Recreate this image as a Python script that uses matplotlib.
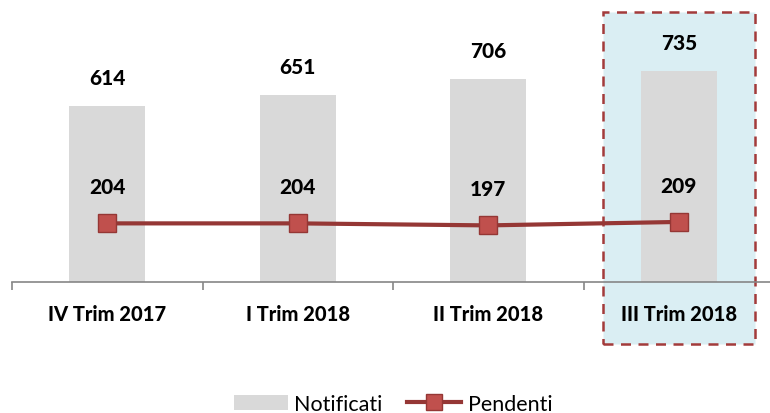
import matplotlib
matplotlib.use("Agg")
import matplotlib.pyplot as plt
from matplotlib.patches import Rectangle
import numpy as np

plt.rcParams["font.family"] = ["Lato", "DejaVu Sans"]

categories = ["IV Trim 2017", "I Trim 2018", "II Trim 2018", "III Trim 2018"]
notificati = [614, 651, 706, 735]
pendenti = [204, 204, 197, 209]

BAR = "#d9d9d9"
LINE = "#953735"
MARK = "#c0504d"
HILITE = "#daeef3"
BORDER = "#a33b3b"

fig = plt.figure(figsize=(7.7, 4.14), dpi=100)
ax = fig.add_axes([12 / 770, 1 - 283 / 414, 762 / 770, 273 / 414])
ax.patch.set_visible(False)

x = np.arange(len(categories))
ax.set_xlim(-0.5, 3.5)
ax.set_ylim(0, 950)

# highlight of the last quarter
ax.add_patch(Rectangle((2.6, -216), 0.8, 1157, facecolor=HILITE,
                       edgecolor=BORDER, lw=1.8, ls=(0, (4, 3)),
                       clip_on=False, zorder=0))

bars = ax.bar(x, notificati, width=0.4, color=BAR, zorder=2)
line, = ax.plot(x, pendenti, color=LINE, lw=3, marker="s", ms=13,
                markerfacecolor=MARK, markeredgecolor=LINE, markeredgewidth=1,
                zorder=3)

for xi, v in zip(x, notificati):
    ax.annotate(str(v), (xi, v), xytext=(0, 13.5), textcoords="offset points",
                ha="center", va="bottom", fontsize=15, fontweight="black")
for xi, v in zip(x, pendenti):
    ax.annotate(str(v), (xi, v), xytext=(0, 19.5), textcoords="offset points",
                ha="center", va="bottom", fontsize=15, fontweight="black")

for s in ("top", "right", "left"):
    ax.spines[s].set_visible(False)
ax.spines["bottom"].set_color("#868686")
ax.spines["bottom"].set_linewidth(1.2)
ax.set_yticks([])
ax.set_xticks(x)
ax.set_xticklabels(categories, fontsize=14.5, fontweight="black")
ax.tick_params(axis="x", length=0, pad=16)
ax.set_xticks(np.arange(-0.5, 4, 1), minor=True)
ax.tick_params(axis="x", which="minor", length=6, color="#868686", width=1.2)

leg = fig.legend([bars, line], ["Notificati", "Pendenti"], loc="center",
                 bbox_to_anchor=(393 / 770, 1 - 405 / 414), ncol=2,
                 frameon=False, fontsize=15.5, handlelength=2.5,
                 columnspacing=1.15, handletextpad=0.3, handleheight=0.75)
leg.legend_handles[1].set_markersize(11)

fig.savefig("out.png", dpi=100)
